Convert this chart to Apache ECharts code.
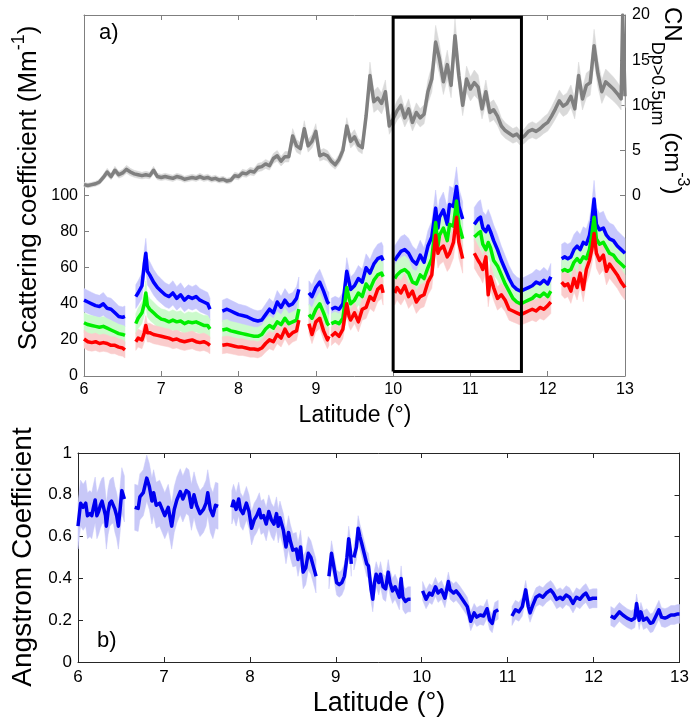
<!DOCTYPE html>
<html><head><meta charset="utf-8">
<script src="https://cdn.jsdelivr.net/npm/echarts@6/dist/echarts.min.js"></script>
<style>html,body{margin:0;padding:0;background:#fff}#c{width:692px;height:718px}</style>
</head><body><div id="c"></div>
<script>
// ---------------- DATA ----------------
// Panel a) scattering coefficients (Mm^-1); null = gap in record
const sLat = [6.00,6.05,6.10,6.15,6.20,6.25,6.30,6.35,6.40,6.45,6.50,6.53, 6.60,
 6.67,6.70,6.75,6.78,6.80,6.82,6.85,6.90,6.95,7.00,7.05,7.10,7.15,7.20,7.25,7.30,7.35,7.40,7.45,7.50,7.55,7.60,7.63, 7.71,
 7.79,7.85,7.90,7.95,8.00,8.05,8.10,8.15,8.20,8.25,8.30,8.35,8.40,8.45,8.50,8.55,8.60,8.65,8.70,8.75,8.78, 8.85,
 8.91,8.95,9.00,9.05,9.10,9.15,9.17, 9.185,
 9.20,9.25,9.30,9.35,9.40,9.43,9.45,9.50,9.55,9.60,9.65,9.70,9.75,9.80,9.85,9.87, 9.95,
 10.02,10.05,10.10,10.15,10.20,10.25,10.30,10.35,10.40,10.45,10.50,10.55,10.58,10.60,10.65,10.70,10.73,10.78,10.82,10.85,10.90, 10.97,
 11.05,11.10,11.13,11.16,11.20,11.23,11.26,11.30,11.35,11.40,11.45,11.50,11.55,11.60,11.65,11.70,11.75,11.80,11.85,11.90,11.95,12.00,12.04, 12.11,
 12.18,12.22,12.26,12.30,12.34,12.38,12.42,12.46,12.50,12.54,12.57,12.60,12.63,12.67,12.72,12.76,12.80,12.85,12.90,12.95,13.00];

const blueScat = [42,41,40,39,38.5,40,37.5,37,35,33,32.5,33, null,
 44,46,50,62,68,58,56,52,49,47,45,44,46,43,45,42,44,43,44,42,41,40,37, null,
 36,37,36,35,34,33.5,33,32,31,30.5,31,34,37,35,41,38,42,39,40,43,48, null,
 46,44,49,52,47,41,40, null,
 37,38,37,40,58,52,48,50,54,52,60,57,62,65,66,64, null,
 64,66,69,70,68,64,62,67,63,72,77,93,82,88,92,84,95,94,105,94,87, null,
 84,87,88,82,80,83,80,75,70,64,59,54,50,48,47,48,49,50,52,51,53,51,55, null,
 65,66,65,66,70,72,70,74,73,78,86,98,84,81,82,78,76,75,72,70,68];

const greenScat = [29.5,28.5,28,27.5,27,27.5,26.5,25.5,24.5,23.5,23,22.5, null,
 29,32,35,40,46,39,37,35,33,31.5,31,30,31,30,30.5,29,30,29.5,30,29,28,28,26, null,
 25.5,26,25,24.5,24,23.5,23,22.5,22,22,23,26,28,26.5,30,28.5,32,29,30,31,37, null,
 34,32,37,40,35,29,28, null,
 29,30,29,32,49,43,40,42,46,44,51,48,53,56,57,55, null,
 54,56,58,59,57,52,51,56,54,60,65,85,72,78,82,75,84,83,97,84,76, null,
 77,79,80,73,70,74,71,64,61,56,51,47,43,41,40,41,42,43,45,44,46,44,47, null,
 58,59,58,59,63,65,63,66,65,70,78,88,76,73,74,71,68,67,64,62,60];

const redScat = [20.5,19,18.5,19,18,18.5,18,17,17,16,15.5,14.5, null,
 19,21,20,24,28,24,24,23,22.5,22,21.5,21,20,20.5,19.5,19,19.5,20,19,18.5,19,18,17, null,
 17,17.5,17,16.5,16,16,15.5,15,15,14.5,15.5,18,20,19,23,21,26,22,24,25,31, null,
 29,23,30,32,25,20,22, null,
 22,24,22,26,40,33,31,35,30,37,38,44,42,48,50,46, null,
 46,49,46,50,44,47,41,44,45,52,56,78,68,70,72,66,68,74,88,74,65, null,
 68,64,62,59,66,45,55,49,43,45,42,37,36,35,34,35,36,37,36,38,37,39,41, null,
 52,50,51,47,54,49,57,48,59,64,70,79,68,64,67,58,62,59,56,52,49];

// uncertainty envelope of the scattering coefficients: err = base + slope*value
const scatErrBase = 3.5, scatErrSlope = 0.07;

// Panel a) CN Dp>0.5um (cm^-3), right axis
const cnLat = [6.00,6.05,6.10,6.15,6.20,6.25,6.30,6.35,6.40,6.45,6.50,6.55,6.60,6.65,6.70,6.75,6.80,6.85,6.90,6.95,
 7.00,7.05,7.10,7.15,7.20,7.25,7.30,7.35,7.40,7.45,7.50,7.55,7.60,7.65,7.70,7.75,7.80,7.85,7.90,7.95,
 8.00,8.05,8.10,8.15,8.20,8.25,8.30,8.35,8.40,8.45,8.50,8.55,8.60,8.65,8.70,8.75,8.80,8.85,8.90,8.95,
 9.00,9.05,9.10,9.15,9.20,9.25,9.30,9.35,9.40,9.45,9.50,9.55,9.60,9.65,9.70,9.75,9.80,9.85,9.90,9.95,
 10.00,10.05,10.10,10.15,10.20,10.25,10.30,10.35,10.40,10.45,10.50,10.55,10.60,10.65,10.70,10.75,10.80,10.85,10.90,10.95,
 11.00,11.05,11.10,11.15,11.20,11.25,11.30,11.35,11.40,11.45,11.50,11.55,11.60,11.65,11.70,11.75,11.80,11.85,11.90,11.95,
 12.00,12.05,12.10,12.15,12.20,12.25,12.30,12.35,12.40,12.45,12.50,12.55,12.60,12.65,12.70,12.75,12.80,12.85,12.90,12.95,12.97,13.00];
const cnVal = [1.2,1.1,1.2,1.3,1.5,2.0,2.6,2.1,2.8,2.3,2.5,2.9,2.6,2.4,2.3,2.2,2.3,2.2,2.8,2.1,
 2.0,2.1,2.0,1.9,2.1,2.0,1.8,1.9,2.0,1.9,2.1,1.9,2.0,1.8,1.9,1.7,1.8,1.6,1.7,2.2,
 2.1,2.5,2.4,2.7,2.6,3.1,3.2,3.5,3.3,4.1,4.4,3.8,4.3,4.3,6.6,5.5,5.2,7.4,5.5,6.0,
 7.1,4.4,4.6,4.4,3.8,3.4,4.0,5.0,7.7,6.0,6.5,5.6,5.3,8.8,13.3,10.4,10.8,10.2,11.5,7.7,
 8.5,9.4,10.0,8.6,9.6,8.1,9.2,8.6,9.0,11.5,12.9,17.0,15.1,12.6,14.5,12.2,17.7,13.3,10.0,12.9,
 11.8,12.5,12.0,9.6,11.5,9.2,9.5,8.8,7.7,7.2,6.9,6.6,6.8,6.3,6.6,7.1,7.3,7.1,7.4,7.8,
 8.1,8.8,9.6,10.5,9.9,10.2,11.0,9.6,13.3,10.7,12.2,12.5,16.6,13.5,11.5,12.6,12.2,11.8,11.3,10.7,20,11.0];
const cnErrBase = 0.15, cnErrSlope = 0.1;

// Panel b) Angstrom coefficient
const aLat = [6.00,6.03,6.06,6.09,6.11,6.14,6.16,6.18,6.20,6.22,6.24,6.26,6.28,6.30,6.32,6.33,6.35,6.37,6.39,6.41,6.43,6.45,6.47,6.49,6.51,6.54, 6.60,
 6.66,6.70,6.72,6.76,6.80,6.83,6.86,6.88,6.91,6.95,6.98,7.01,7.05,7.09,7.12,7.15,7.19,7.22,7.26,7.29,7.32,7.35,7.38,7.42,7.46,7.49,7.51,7.54,7.57,7.60,7.63, 7.71,
 7.79,7.81,7.84,7.87,7.89,7.92,7.96,7.99,8.02,8.05,8.08,8.11,8.13,8.16,8.19,8.22,8.25,8.28,8.31,8.33,8.35,8.39,8.42,8.45,8.47,8.50,8.54,8.56,8.59,8.62,8.65,8.68,8.71,8.74,8.77, 8.85,
 8.92,8.95,8.98,9.01,9.04,9.07,9.10,9.13,9.15,9.17,9.18, 9.19,
 9.21,9.24,9.26,9.28,9.30,9.33,9.36,9.38,9.41,9.43,9.45,9.47,9.50,9.52,9.55,9.58,9.61,9.63,9.66,9.69,9.72,9.74,9.76,9.78,9.81,9.84,9.87, 9.95,
 10.01,10.05,10.09,10.12,10.16,10.19,10.23,10.27,10.31,10.33,10.37,10.40,10.44,10.49,10.53,10.57,10.61,10.64,10.68,10.72,10.76,10.79,10.82,10.85,10.89, 10.97,
 11.05,11.09,11.13,11.17,11.21,11.24,11.26,11.29,11.33,11.37,11.41,11.45,11.50,11.53,11.57,11.61,11.64,11.68,11.72,11.76,11.80,11.84,11.88,11.91,11.95,11.99,12.04, 12.12,
 12.20,12.24,12.30,12.34,12.39,12.44,12.48,12.50,12.53,12.55,12.58,12.62,12.66,12.69,12.72,12.76,12.79,12.83,12.86,12.90,12.94,12.98,13.00];
const aVal = [0.65,0.76,0.74,0.76,0.70,0.71,0.70,0.74,0.775,0.70,0.72,0.75,0.77,0.775,0.70,0.65,0.72,0.76,0.77,0.775,0.73,0.70,0.65,0.73,0.82,0.78, null,
 0.74,0.735,0.79,0.81,0.88,0.84,0.77,0.81,0.75,0.76,0.73,0.70,0.74,0.65,0.73,0.775,0.815,0.78,0.82,0.81,0.74,0.80,0.75,0.71,0.73,0.76,0.81,0.73,0.70,0.75,0.745, null,
 0.74,0.77,0.73,0.78,0.73,0.71,0.76,0.72,0.64,0.68,0.70,0.73,0.69,0.70,0.66,0.72,0.68,0.66,0.71,0.65,0.69,0.63,0.55,0.62,0.58,0.535,0.54,0.49,0.55,0.43,0.45,0.52,0.50,0.455,0.41, null,
 0.41,0.52,0.45,0.38,0.37,0.38,0.41,0.50,0.59,0.53,0.47, null,
 0.50,0.55,0.64,0.60,0.57,0.52,0.47,0.46,0.35,0.30,0.38,0.42,0.38,0.42,0.36,0.35,0.43,0.38,0.34,0.36,0.33,0.31,0.40,0.31,0.29,0.30,0.30, null,
 0.34,0.30,0.33,0.32,0.36,0.33,0.345,0.305,0.385,0.345,0.33,0.34,0.32,0.29,0.265,0.195,0.235,0.215,0.225,0.22,0.255,0.20,0.185,0.24,0.25, null,
 0.22,0.25,0.24,0.265,0.345,0.265,0.235,0.27,0.31,0.32,0.31,0.33,0.345,0.33,0.30,0.31,0.30,0.32,0.31,0.28,0.31,0.30,0.32,0.33,0.30,0.305,0.305, null,
 0.22,0.21,0.24,0.225,0.21,0.20,0.21,0.28,0.20,0.24,0.20,0.21,0.185,0.19,0.215,0.25,0.215,0.21,0.215,0.225,0.225,0.23,0.23];
// uncertainty half-width of the Angstrom coefficient per flight leg
const aErrEdges = [6.0, 7.7, 8.85, 9.95, 13.01];
const aErr = [0.11, 0.08, 0.06, 0.045];

// highlighted region in panel a)
const boxLat = [10.0, 11.66];
const boxVal = [2.5, 198.8];

// ticks
const scatTicks = [0,20,40,60,80,100];
const cnTicks = [0,5,10,15,20];

// ---------------- CHART ----------------
const FONT = '"Liberation Sans", Arial, Helvetica, sans-serif';
const topAxisCol = '#7f7f7f', botAxisCol = '#262626';

const mctx = document.createElement('canvas').getContext('2d');
function tw(t, s) { mctx.font = s + 'px ' + FONT; return mctx.measureText(t).width; }
function rotText(parts, cx, cy, dir, anchor) {
  const total = parts.reduce((a, p) => a + tw(p.t, p.s), 0);
  let off = anchor === 'center' ? -total / 2 : 0;
  const els = [];
  parts.forEach(p => {
    const rise = p.rise || 0;
    const x = dir === 1 ? cx - rise : cx + rise;
    const y = dir === 1 ? cy - off : cy + off;
    els.push({ type: 'text', x: x, y: y, rotation: dir * Math.PI / 2, silent: true,
      style: { text: p.t, fontSize: p.s, fontFamily: FONT, fill: '#000',
        textAlign: 'left', textVerticalAlign: 'middle', align: 'left', verticalAlign: 'middle' } });
    off += tw(p.t, p.s);
  });
  return els;
}
function plainText(t, s, x, y, align) {
  return { type: 'text', x: x, y: y, silent: true,
    style: { text: t, fontSize: s, fontFamily: FONT, fill: '#000', textAlign: align, textVerticalAlign: 'middle', align: align, verticalAlign: 'middle' } };
}

// uncertainty band drawn as one polygon per continuous leg, positioned through the axes (api.coord)
function bandCustom(xs, ys, errOf, col, xi, yi) {
  const segs = [];
  let cur = [];
  xs.forEach((x, i) => {
    if (ys[i] == null) { if (cur.length) segs.push(cur); cur = []; }
    else { const e = errOf(ys[i], x); cur.push([x, ys[i] - e, ys[i] + e]); }
  });
  if (cur.length) segs.push(cur);
  return {
    type: 'custom', xAxisIndex: xi, yAxisIndex: yi, silent: true, animation: false,
    data: segs.map((s, k) => [s[0][0], k]),
    encode: { x: 0, y: -1 },
    renderItem: function (params, api) {
      const seg = segs[api.value(1)];
      const up = seg.map(p => api.coord([p[0], p[2]]));
      const dn = seg.map(p => api.coord([p[0], p[1]])).reverse();
      const cs = params.coordSys;
      const pts = echarts.graphic.clipPointsByRect(up.concat(dn), { x: cs.x, y: cs.y, width: cs.width, height: cs.height });
      return { type: 'polygon', shape: { points: pts }, style: { fill: col, stroke: col, lineWidth: 0.5 }, silent: true };
    }
  };
}
function lineS(name, xs, ys, col, w, xi, yi) {
  return { type: 'line', name: name, xAxisIndex: xi, yAxisIndex: yi, data: xs.map((x, i) => [x, ys[i]]),
    showSymbol: false, symbol: 'none', connectNulls: false, silent: true, animation: false,
    lineStyle: { color: col, width: w, join: 'round' } };
}
const scatErr = v => scatErrBase + scatErrSlope * v;
const cnErr = v => cnErrBase + cnErrSlope * v;
const aErrAt = (v, x) => { for (let k = 0; k < aErr.length; k++) if (x < aErrEdges[k + 1]) return aErr[k]; return aErr[aErr.length - 1]; };

function xAx(gi, pos, col, labels, fs, margin) {
  return { gridIndex: gi, type: 'value', min: 6, max: 13, interval: 1, position: pos,
    axisLine: { show: true, onZero: false, lineStyle: { color: col, width: 1 } },
    axisTick: { show: true, inside: true, length: 5, lineStyle: { color: col } },
    axisLabel: { show: labels, fontSize: fs, color: '#000', fontFamily: FONT, margin: margin },
    splitLine: { show: false } };
}

const series = [
  bandCustom(cnLat, cnVal, cnErr, '#d9d9d9', 0, 1),
  lineS('CN', cnLat, cnVal, '#808080', 3.5, 0, 1),
  bandCustom(sLat, blueScat, scatErr, '#c8c8fc', 0, 0),
  lineS('blue', sLat, blueScat, '#0000ff', 3.5, 0, 0),
  bandCustom(sLat, greenScat, scatErr, '#ccfacc', 0, 0),
  lineS('green', sLat, greenScat, '#00ee00', 3.5, 0, 0),
  bandCustom(sLat, redScat, scatErr, '#facccc', 0, 0),
  lineS('red', sLat, redScat, '#ff0000', 3.5, 0, 0),
  { type: 'line', name: 'box', xAxisIndex: 0, yAxisIndex: 0, showSymbol: false, symbol: 'none', silent: true, animation: false,
    data: [[boxLat[0], boxVal[0]], [boxLat[0], boxVal[1]], [boxLat[1], boxVal[1]], [boxLat[1], boxVal[0]], [boxLat[0], boxVal[0]]],
    lineStyle: { color: '#000', width: 3, join: 'miter' }, z: 5 },
  bandCustom(aLat, aVal, aErrAt, '#c8c8f8', 2, 2),
  lineS('angstrom', aLat, aVal, '#0000ee', 3.5, 2, 2)
];

const graphics = [].concat(
  rotText([{ t: 'Scattering coefficient (Mm', s: 26 }, { t: '-1', s: 18, rise: 10 }, { t: ')', s: 26 }], 29, 188, 1, 'center'),
  rotText([{ t: 'CN', s: 24 }, { t: 'Dp>0.5µm', s: 18, rise: -15 }, { t: ' (cm', s: 24 }, { t: '-3', s: 16, rise: 10 }, { t: ')', s: 24 }], 672, 7, -1, 'start'),
  rotText([{ t: 'Angstrom Coefficient', s: 28 }], 23, 557, 1, 'center'),
  [plainText('Latitude (°)', 23, 355, 416, 'center'),
   plainText('Latitude (°)', 27, 379, 704, 'center'),
   plainText('a)', 22, 99, 33, 'left'),
   plainText('b)', 22, 97, 641, 'left')]
);

const option = {
  backgroundColor: '#fff',
  animation: false,
  grid: [
    { left: 84, right: 67, top: 15, bottom: 342, show: false },
    { left: 78, right: 12, top: 453, bottom: 56, show: false }
  ],
  xAxis: [xAx(0, 'bottom', topAxisCol, true, 16, 6), xAx(0, 'top', topAxisCol, false, 16, 6),
          xAx(1, 'bottom', botAxisCol, true, 17, 7), xAx(1, 'top', botAxisCol, false, 17, 7)],
  yAxis: [
    { gridIndex: 0, type: 'value', min: 0, max: 200, interval: 20, position: 'left',
      axisLine: { show: true, lineStyle: { color: topAxisCol } },
      axisTick: { show: true, inside: true, length: 5, customValues: scatTicks, lineStyle: { color: topAxisCol } },
      axisLabel: { show: true, customValues: scatTicks, fontSize: 16, color: '#000', fontFamily: FONT, margin: 6 },
      splitLine: { show: false } },
    { gridIndex: 0, type: 'value', min: -20, max: 20, interval: 5, position: 'right',
      axisLine: { show: true, lineStyle: { color: topAxisCol } },
      axisTick: { show: true, inside: true, length: 5, customValues: cnTicks, lineStyle: { color: topAxisCol } },
      axisLabel: { show: true, customValues: cnTicks, fontSize: 16, color: '#000', fontFamily: FONT, margin: 7 },
      splitLine: { show: false } },
    { gridIndex: 1, type: 'value', min: 0, max: 1, interval: 0.2, position: 'left',
      axisLine: { show: true, lineStyle: { color: botAxisCol } },
      axisTick: { show: true, inside: true, length: 5, lineStyle: { color: botAxisCol } },
      axisLabel: { show: true, fontSize: 17, color: '#000', fontFamily: FONT, margin: 6 },
      splitLine: { show: false } },
    { gridIndex: 1, type: 'value', min: 0, max: 1, interval: 0.2, position: 'right',
      axisLine: { show: true, lineStyle: { color: botAxisCol } },
      axisTick: { show: true, inside: true, length: 5, lineStyle: { color: botAxisCol } },
      axisLabel: { show: false }, splitLine: { show: false } }
  ],
  series: series,
  graphic: graphics
};
const chart = echarts.init(document.getElementById('c'));
chart.setOption(option);
</script></body></html>
